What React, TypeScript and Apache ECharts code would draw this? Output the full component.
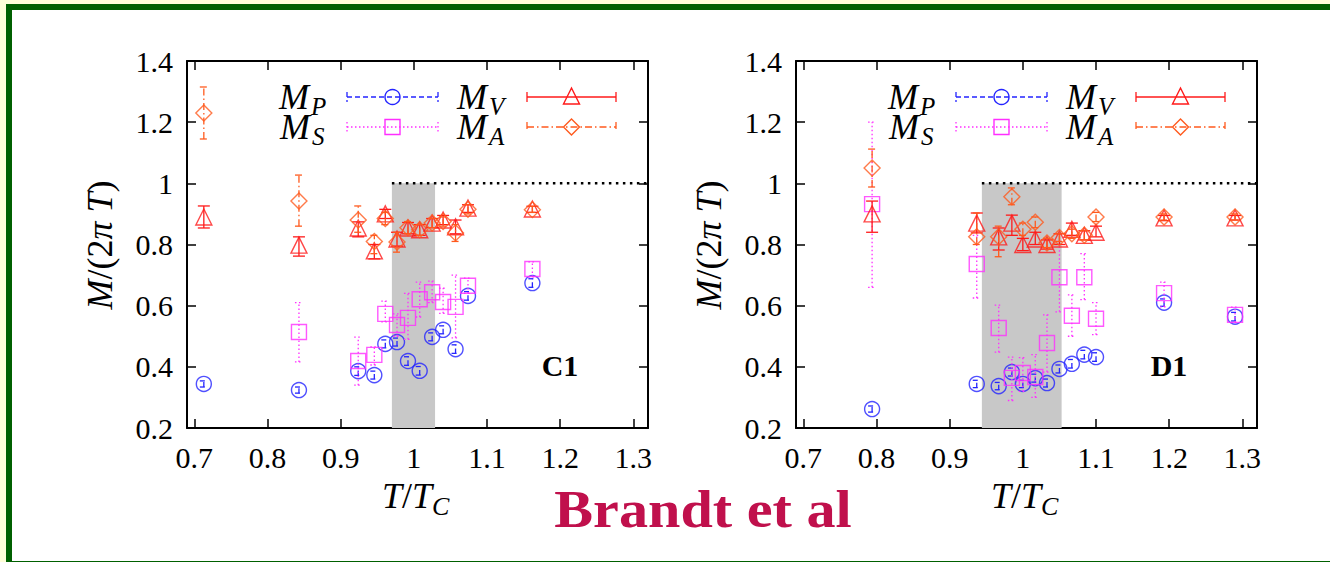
import React, { useEffect, useRef } from "react";
import * as echarts from "echarts";

// ---------- axes ----------
const xTicks = [0.7, 0.8, 0.9, 1.0, 1.1, 1.2, 1.3];
const yTicks = [0.2, 0.4, 0.6, 0.8, 1.0, 1.2, 1.4];
const X_MIN = 0.69;
const X_MAX = 1.32;
const Y_MIN = 0.2;
const Y_MAX = 1.4;

// ---------- panel C1 ----------
const c1T = [0.713, 0.843, 0.924, 0.946, 0.961, 0.977, 0.992, 1.008, 1.025, 1.04, 1.057, 1.074, 1.162];
const c1MP = [0.344, 0.324, 0.386, 0.373, 0.475, 0.481, 0.419, 0.387, 0.498, 0.521, 0.458, 0.632, 0.674];
const c1MPlo = [0.334, 0.314, 0.372, 0.36, 0.462, 0.468, 0.405, 0.373, 0.485, 0.508, 0.444, 0.618, 0.66];
const c1MPhi = [0.354, 0.334, 0.4, 0.386, 0.488, 0.494, 0.433, 0.401, 0.511, 0.534, 0.472, 0.646, 0.688];
const c1MS = [null, 0.514, 0.419, 0.439, 0.573, 0.537, 0.56, 0.621, 0.644, 0.612, 0.596, 0.665, 0.72];
const c1MSlo = [null, 0.416, 0.34, 0.406, 0.547, 0.5, 0.49, 0.563, 0.61, 0.575, 0.495, 0.64, 0.694];
const c1MShi = [null, 0.61, 0.497, 0.465, 0.615, 0.573, 0.64, 0.677, 0.68, 0.657, 0.7, 0.69, 0.743];
const c1MV = [0.89, 0.798, 0.854, 0.779, 0.9, 0.818, 0.854, 0.848, 0.87, 0.88, 0.858, 0.919, 0.916];
const c1MVlo = [0.854, 0.762, 0.825, 0.753, 0.885, 0.795, 0.835, 0.83, 0.855, 0.865, 0.835, 0.905, 0.905];
const c1MVhi = [0.926, 0.825, 0.874, 0.8, 0.915, 0.84, 0.872, 0.865, 0.885, 0.895, 0.88, 0.93, 0.925];
const c1MA = [1.23, 0.942, 0.88, 0.81, 0.885, 0.808, 0.855, 0.848, 0.87, 0.875, 0.838, 0.915, 0.914];
const c1MAlo = [1.145, 0.86, 0.84, 0.77, 0.865, 0.775, 0.835, 0.83, 0.855, 0.86, 0.81, 0.9, 0.905];
const c1MAhi = [1.315, 1.027, 0.926, 0.83, 0.905, 0.84, 0.875, 0.865, 0.885, 0.89, 0.865, 0.93, 0.925];
const c1Band = [0.97, 1.029];

// ---------- panel D1 ----------
const d1T = [0.794, 0.937, 0.967, 0.985, 1.0, 1.017, 1.033, 1.05, 1.067, 1.084, 1.1, 1.193, 1.29];
const d1MP = [0.262, 0.344, 0.337, 0.383, 0.344, 0.363, 0.347, 0.393, 0.41, 0.44, 0.432, 0.61, 0.564];
const d1MPlo = [0.252, 0.332, 0.325, 0.37, 0.332, 0.35, 0.334, 0.38, 0.396, 0.426, 0.418, 0.598, 0.55];
const d1MPhi = [0.272, 0.356, 0.349, 0.396, 0.356, 0.376, 0.36, 0.406, 0.424, 0.454, 0.446, 0.622, 0.578];
const d1MS = [0.932, 0.736, 0.527, 0.364, 0.38, 0.367, 0.478, 0.693, 0.567, 0.693, 0.557, 0.641, 0.57];
const d1MSlo = [0.66, 0.625, 0.448, 0.29, 0.32, 0.3, 0.383, 0.58, 0.5, 0.62, 0.505, 0.596, 0.545];
const d1MShi = [1.2, 0.83, 0.602, 0.432, 0.43, 0.44, 0.57, 0.81, 0.635, 0.77, 0.61, 0.677, 0.595];
const d1MV = [0.9, 0.87, 0.825, 0.87, 0.8, 0.818, 0.8, 0.818, 0.85, 0.83, 0.84, 0.887, 0.887];
const d1MVlo = [0.84, 0.838, 0.782, 0.83, 0.78, 0.8, 0.785, 0.8, 0.83, 0.815, 0.825, 0.878, 0.88];
const d1MVhi = [0.942, 0.903, 0.854, 0.896, 0.82, 0.84, 0.815, 0.835, 0.87, 0.845, 0.86, 0.895, 0.895];
const d1MA = [1.05, 0.825, 0.825, 0.956, 0.85, 0.873, 0.805, 0.823, 0.835, 0.83, 0.89, 0.89, 0.89];
const d1MAlo = [0.988, 0.8, 0.76, 0.93, 0.83, 0.855, 0.79, 0.81, 0.82, 0.815, 0.875, 0.88, 0.88];
const d1MAhi = [1.112, 0.903, 0.86, 0.985, 0.87, 0.89, 0.82, 0.835, 0.85, 0.845, 0.905, 0.9, 0.9];
const d1Band = [0.944, 1.053];

const LIMIT = 1.0;
const panelLabels = ["C1", "D1"];
const seriesNames = ["M_P", "M_S", "M_V", "M_A"];

// ---------- styles ----------
const FONT = "Liberation Serif";
const COL = { P: "#2424ff", S: "#ff2eff", V: "#ff1a1a", A: "#ff5a1e" };
const DASH: Record<string, any> = { P: [5, 3], S: [1.5, 2.5], V: "solid", A: [7, 3, 1.5, 3] };
const GRID_LEFT = [187, 796];
const GRID_TOP = 61;
const GRID_W = 461;
const GRID_H = 367;

const fmt = (v: number) => String(Math.round(v * 10) / 10);

const RICH = {
  i: { fontFamily: FONT, fontStyle: "italic", fontSize: 36, lineHeight: 30 },
  r: { fontFamily: FONT, fontSize: 36, lineHeight: 30 },
};

function pairs(xs: number[], ys: (number | null)[]) {
  const out: number[][] = [];
  xs.forEach((x, i) => {
    if (ys[i] != null) out.push([x, ys[i] as number]);
  });
  return out;
}
function triples(xs: number[], lo: (number | null)[], hi: (number | null)[]) {
  const out: number[][] = [];
  xs.forEach((x, i) => {
    if (lo[i] != null && hi[i] != null) out.push([x, lo[i] as number, hi[i] as number]);
  });
  return out;
}

function errSeries(gi: number, data: number[][], color: string, dash: any, cap: number, z: number) {
  return {
    type: "custom",
    xAxisIndex: gi * 2,
    yAxisIndex: gi * 2,
    data,
    encode: { x: 0, y: [1, 2] },
    silent: true,
    z,
    renderItem: (_p: any, api: any) => {
      const x = api.value(0);
      const a = api.coord([x, api.value(1)]);
      const b = api.coord([x, api.value(2)]);
      const style = { stroke: color, lineWidth: 1.3, lineDash: dash === "solid" ? null : dash, fill: null };
      return {
        type: "group",
        children: [
          { type: "line", shape: { x1: a[0], y1: a[1], x2: b[0], y2: b[1] }, style },
          { type: "line", shape: { x1: a[0] - cap, y1: a[1], x2: a[0] + cap, y2: a[1] }, style },
          { type: "line", shape: { x1: b[0] - cap, y1: b[1], x2: b[0] + cap, y2: b[1] }, style },
        ],
      };
    },
  };
}

function pointSeries(gi: number, data: number[][], color: string, symbol: string, size: number, z: number) {
  return {
    type: "scatter",
    xAxisIndex: gi * 2,
    yAxisIndex: gi * 2,
    data,
    symbol,
    symbolSize: size,
    silent: true,
    z,
    itemStyle: { color: "rgba(0,0,0,0)", borderColor: color, borderWidth: 1.4 },
  };
}

function bandSeries(gi: number, band: number[]) {
  return {
    type: "custom",
    xAxisIndex: gi * 2,
    yAxisIndex: gi * 2,
    data: [[band[0], band[1], LIMIT]],
    encode: { x: [0, 1], y: 2 },
    silent: true,
    z: 1,
    renderItem: (_p: any, api: any) => {
      const p0 = api.coord([api.value(0), LIMIT]);
      const p1 = api.coord([api.value(1), Y_MIN]);
      const pe = api.coord([X_MAX, LIMIT]);
      return {
        type: "group",
        children: [
          {
            type: "rect",
            shape: { x: p0[0], y: p0[1], width: p1[0] - p0[0], height: p1[1] - p0[1] },
            style: { fill: "#c8c8c8" },
          },
          {
            type: "line",
            shape: { x1: p0[0], y1: p0[1], x2: pe[0], y2: pe[1] },
            style: { stroke: "#000", lineWidth: 2.5, lineDash: [2.5, 4.5] },
          },
        ],
      };
    },
  };
}

function panelSeries(gi: number, t: number[], P: any, S: any, V: any, A: any, band: number[]) {
  return [
    bandSeries(gi, band),
    errSeries(gi, triples(t, P[1], P[2]), COL.P, DASH.P, 4, 3),
    pointSeries(gi, pairs(t, P[0]), COL.P, "circle", 15, 4),
    errSeries(gi, triples(t, S[1], S[2]), COL.S, DASH.S, 4, 5),
    pointSeries(gi, pairs(t, S[0]), COL.S, "rect", 15, 6),
    errSeries(gi, triples(t, V[1], V[2]), COL.V, DASH.V, 6, 7),
    pointSeries(gi, pairs(t, V[0]), COL.V, "triangle", 16, 8),
    errSeries(gi, triples(t, A[1], A[2]), COL.A, DASH.A, 4, 9),
    pointSeries(gi, pairs(t, A[0]), COL.A, "diamond", 16, 10),
  ];
}

function axesFor(gi: number) {
  const tickStyle = { color: "#000", width: 1.5 };
  const lineStyle = { color: "#000", width: 2 };
  const x = [
    {
      gridIndex: gi, type: "value", min: X_MIN, max: X_MAX, position: "bottom",
      axisLine: { show: true, onZero: false, lineStyle },
      axisTick: { show: true, inside: true, length: 9, customValues: xTicks, lineStyle: tickStyle },
      axisLabel: { show: true, customValues: xTicks, formatter: fmt, fontFamily: FONT, fontSize: 30, color: "#000", margin: 14 },
      splitLine: { show: false },
    },
    {
      gridIndex: gi, type: "value", min: X_MIN, max: X_MAX, position: "top",
      axisLine: { show: true, onZero: false, lineStyle },
      axisTick: { show: true, inside: true, length: 9, customValues: xTicks, lineStyle: tickStyle },
      axisLabel: { show: false },
      splitLine: { show: false },
    },
  ];
  const y = [
    {
      gridIndex: gi, type: "value", min: Y_MIN, max: Y_MAX, interval: 0.2, position: "left",
      axisLine: { show: true, onZero: false, lineStyle },
      axisTick: { show: true, inside: true, length: 9, customValues: yTicks, lineStyle: tickStyle },
      axisLabel: { show: true, customValues: yTicks, formatter: fmt, fontFamily: FONT, fontSize: 30, color: "#000", margin: 14 },
      splitLine: { show: false },
    },
    {
      gridIndex: gi, type: "value", min: Y_MIN, max: Y_MAX, interval: 0.2, position: "right",
      axisLine: { show: true, onZero: false, lineStyle },
      axisTick: { show: true, inside: true, length: 9, customValues: yTicks, lineStyle: tickStyle },
      axisLabel: { show: false },
      splitLine: { show: false },
    },
  ];
  return { x, y };
}

function legendGraphics(gl: number) {
  const r1 = 97;
  const r2 = 127;
  const items: any[] = [];
  const entry = (name: string, key: "P" | "S" | "V" | "A", tx: number, lx0: number, lx1: number, y: number, sym: string) => {
    const color = (COL as any)[key];
    const dash = DASH[key] === "solid" ? null : DASH[key];
    const st = { stroke: color, lineWidth: 1.3, lineDash: dash, fill: null };
    items.push({
      type: "text", x: tx, y,
      style: { text: "M", fontFamily: FONT, fontStyle: "italic", fontSize: 36, lineHeight: 24, fill: "#000", align: "left", verticalAlign: "middle" },
    });
    items.push({
      type: "text", x: tx + 32, y: y + 9,
      style: { text: name.split("_")[1], fontFamily: FONT, fontStyle: "italic", fontSize: 25, lineHeight: 16, fill: "#000", align: "left", verticalAlign: "middle" },
    });
    items.push({ type: "line", shape: { x1: lx0, y1: y, x2: lx1, y2: y }, style: st });
    items.push({ type: "line", shape: { x1: lx0, y1: y - 5, x2: lx0, y2: y + 5 }, style: st });
    items.push({ type: "line", shape: { x1: lx1, y1: y - 5, x2: lx1, y2: y + 5 }, style: st });
    const cx = (lx0 + lx1) / 2;
    const sst = { stroke: color, lineWidth: 1.4, fill: "rgba(0,0,0,0)" };
    if (sym === "circle") items.push({ type: "circle", shape: { cx, cy: y, r: 7.5 }, style: sst });
    if (sym === "rect") items.push({ type: "rect", shape: { x: cx - 7.5, y: y - 7.5, width: 15, height: 15 }, style: sst });
    if (sym === "triangle") items.push({ type: "polygon", shape: { points: [[cx, y - 9], [cx - 8, y + 7], [cx + 8, y + 7]] }, style: sst });
    if (sym === "diamond") items.push({ type: "polygon", shape: { points: [[cx, y - 8], [cx + 8, y], [cx, y + 8], [cx - 8, y]] }, style: sst });
  };
  entry(seriesNames[0], "P", gl + 92, gl + 160, gl + 251, r1, "circle");
  entry(seriesNames[1], "S", gl + 93, gl + 160, gl + 251, r2, "rect");
  entry(seriesNames[2], "V", gl + 270, gl + 340, gl + 429, r1, "triangle");
  entry(seriesNames[3], "A", gl + 270, gl + 340, gl + 429, r2, "diamond");
  return items;
}

function axisTitleGraphics(gl: number, label: string) {
  return [
    {
      type: "text", x: gl - 87, y: 245, rotation: Math.PI / 2,
      style: {
        text: "{i|M}{r|/(2}{i|π} {i|T}{r|)}",
        rich: RICH,
        fontFamily: FONT, fontSize: 36, fill: "#000", align: "center", verticalAlign: "middle",
      },
    },
    {
      type: "text", x: gl + 245, y: 496,
      style: {
        text: "{i|T}{r|/}{i|T}",
        rich: RICH,
        fontFamily: FONT, fontSize: 36, fill: "#000", align: "right", verticalAlign: "middle",
      },
    },
    {
      type: "text", x: gl + 245, y: 506,
      style: { text: "C", fontFamily: FONT, fontStyle: "italic", fontSize: 26, lineHeight: 16, fill: "#000", align: "left", verticalAlign: "middle" },
    },
    { type: "text", x: gl + 373, y: 365, style: { text: label, fontFamily: FONT, fontWeight: "bold", fontSize: 30, fill: "#000", align: "center", verticalAlign: "middle" } },
  ];
}

export default function App() {
  const ref = useRef<HTMLDivElement>(null);
  useEffect(() => {
    if (!ref.current) return;
    const chart = echarts.init(ref.current, undefined, { renderer: "svg" });
    const a0 = axesFor(0);
    const a1 = axesFor(1);
    chart.setOption({
      animation: false,
      textStyle: { fontFamily: FONT },
      grid: GRID_LEFT.map((l) => ({ left: l, top: GRID_TOP, width: GRID_W, height: GRID_H })),
      xAxis: [...a0.x, ...a1.x],
      yAxis: [...a0.y, ...a1.y],
      series: [
        ...panelSeries(0, c1T, [c1MP, c1MPlo, c1MPhi], [c1MS, c1MSlo, c1MShi], [c1MV, c1MVlo, c1MVhi], [c1MA, c1MAlo, c1MAhi], c1Band),
        ...panelSeries(1, d1T, [d1MP, d1MPlo, d1MPhi], [d1MS, d1MSlo, d1MShi], [d1MV, d1MVlo, d1MVhi], [d1MA, d1MAlo, d1MAhi], d1Band),
      ],
      graphic: [
        ...legendGraphics(GRID_LEFT[0]),
        ...legendGraphics(GRID_LEFT[1]),
        ...axisTitleGraphics(GRID_LEFT[0], panelLabels[0]),
        ...axisTitleGraphics(GRID_LEFT[1], panelLabels[1]),
        {
          type: "text", x: 703, y: 510, scaleX: 1.12,
          style: { text: "Brandt et al", fontFamily: FONT, fontWeight: "bold", fontSize: 52, fill: "#c0104c", align: "center", verticalAlign: "middle" },
        },
      ],
    });
    return () => chart.dispose();
  }, []);
  return (
    <div style={{ position: "fixed", left: 0, top: 0, width: 1330, height: 562, background: "#ffffd8", overflow: "hidden" }}>
      <div style={{ position: "absolute", left: 6, top: 4, width: 1324, height: 558, background: "#006000" }} />
      <div style={{ position: "absolute", left: 12, top: 10, width: 1318, height: 551, background: "#ffffff" }} />
      <div ref={ref} style={{ position: "absolute", left: 0, top: 0, width: 1330, height: 562 }} />
    </div>
  );
}
